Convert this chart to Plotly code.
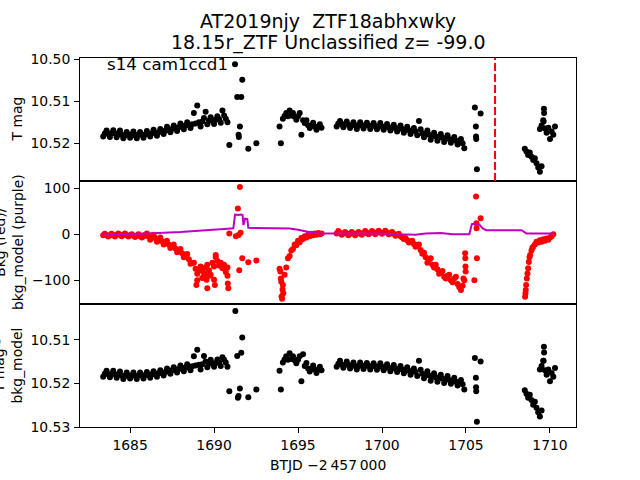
import plotly.graph_objects as go

# ---------------- data ----------------
CADENCE = 0.1  # days between listed samples inside a segment

# Top panel: T mag  (segment start time, values)
TOP_SEGMENTS = [
    (1683.4, [10.5184, 10.5177, 10.5170, 10.5178, 10.5185, 10.5176, 10.5169, 10.5177, 10.5186, 10.5178,
              10.5170, 10.5180, 10.5188, 10.5181, 10.5173, 10.5180, 10.5187, 10.5179, 10.5172, 10.5181,
              10.5188, 10.5180, 10.5173, 10.5180, 10.5187, 10.5179, 10.5171, 10.5178, 10.5184, 10.5176,
              10.5168, 10.5175, 10.5182, 10.5174, 10.5166, 10.5172, 10.5178, 10.5170, 10.5161, 10.5168,
              10.5174, 10.5166, 10.5158, 10.5164, 10.5171, 10.5162, 10.5153, 10.5160, 10.5167, 10.5158,
              10.5150, 10.5157, 10.5164, 10.5155, 10.5128, 10.5153, 10.5110, 10.5150, 10.5160, 10.5148,
              10.5140, 10.5125, 10.5155, 10.5146, 10.5138, 10.5147, 10.5154, 10.5144, 10.5136, 10.5143,
              10.5151, 10.5122, 10.5134, 10.5142, 10.5150]),
    (1694.1, [10.5142, 10.5135, 10.5128, 10.5136, 10.5122, 10.5134, 10.5128, 10.5137, 10.5144, 10.5136,
              10.5128, 10.5180, 10.5145, 10.5152, 10.5145, 10.5157, 10.5164, 10.5158, 10.5151, 10.5160,
              10.5168, 10.5161, 10.5155, 10.5163]),
    (1697.3, [10.5160, 10.5153, 10.5147, 10.5155, 10.5162, 10.5155, 10.5148, 10.5156, 10.5164, 10.5157,
              10.5150, 10.5158, 10.5166, 10.5158, 10.5150, 10.5157, 10.5165, 10.5158, 10.5151, 10.5158,
              10.5166, 10.5159, 10.5152, 10.5159, 10.5167, 10.5160, 10.5152, 10.5160, 10.5168, 10.5161,
              10.5154, 10.5162, 10.5170, 10.5163, 10.5156, 10.5164, 10.5172, 10.5165, 10.5158, 10.5166,
              10.5175, 10.5168, 10.5161, 10.5169, 10.5178, 10.5171, 10.5164, 10.5172, 10.5181, 10.5147,
              10.5167, 10.5176, 10.5186, 10.5178, 10.5170, 10.5180, 10.5192, 10.5183, 10.5175, 10.5184,
              10.5194, 10.5186, 10.5178, 10.5187, 10.5197, 10.5189, 10.5181, 10.5190, 10.5199, 10.5192,
              10.5185, 10.5194, 10.5203, 10.5197, 10.5190, 10.5200, 10.5212]),
    (1708.5, [10.5213, 10.5220, 10.5228, 10.5222, 10.5232, 10.5240, 10.5236, 10.5248, 10.5258, 10.5268, 10.5255]),
    (1709.4, [10.5166, 10.5158, 10.5145, 10.5165, 10.5175, 10.5163, 10.5190, 10.5172, 10.5180, 10.5160]),
]
TOP_EXTRA_T = [1690.91, 1691.25, 1691.38, 1691.46, 1691.48, 1691.54, 1691.62, 1691.68, 1692.04, 1692.52,
               1693.90, 1693.98, 1705.53, 1705.59, 1705.60, 1705.61, 1705.65, 1705.87, 1709.64, 1709.65, 1709.62]
TOP_EXTRA_MAG = [10.5204, 10.5012, 10.5090, 10.5180, 10.5185, 10.5160, 10.5090, 10.5049, 10.5213, 10.5200,
                 10.5160, 10.5200, 10.5115, 10.5160, 10.5184, 10.5190, 10.5262, 10.5129, 10.5118, 10.5128, 10.5148]

# Middle panel: background flux (red)
BKG_SEGMENTS = [
    (1683.4, [-2, 1, -2, -5, -2, 1, -2, -5, -1, 2, -1, -4, -1, 2, -2, -5, -2, 0, -3, -6, -3, 0, -4, -7, -4, -1,
              2, -5, -12, -7, -1, -8, -16, -12, -7, -15, -22, -18, -14, -22, -30, -26, -22, -31, -39, -36,
              -32, -41, -50, -46, -43, -54, -64, -63, -62, -75,
              -86, -78, -70, -80, -90, -72, -66, -78, -88, -62, -70, -50, -58, -68, -62, -74, -66, -82, -72]),
    (1694.1, [-110, -88, -72, -52, -47, -35, -32, -22, -24, -14, -17, -8, -10, -4, -7, -1, -4, 1, -2, 2,
              -1, 3, 0, 2]),
    (1697.3, [2, 7, 3, -1, 2, 5, 2, -2, 1, 5,
              2, -2, 2, 5, 2, -1, 3, 7, 3, 0,
              3, 7, 4, 0, 4, 8, 4, 1, 4, 8,
              4, 0, 2, 5, 1, -3, -1, 1, -4, -7,
              -10, -8, -13, -18, -16, -14, -21, -27, -24, -22,
              -34, -42, -40, -50, -62, -56, -52, -66, -72, -66,
              -76, -86, -82, -80, -92, -96, -90, -88, -100, -104,
              -96, -92, -108, -115, -121, -112, -100]),
    (1709.0, [-27, -22, -16, -18, -13, -16, -11, -14, -9, -12, -7, -4, 0]),
]
BKG_EXTRA_T = [1688.95, 1689.0, 1689.3, 1689.55, 1689.6, 1690.0, 1690.05, 1690.8, 1690.82, 1690.85, 1690.1,
               1689.45, 1689.75,
               1690.91, 1691.3, 1691.42, 1691.46, 1691.5, 1691.54, 1691.58, 1691.68, 1692.04, 1692.52,
               1693.9, 1693.95, 1693.98, 1694.0, 1694.02, 1694.05, 1694.08, 1694.12,
               1704.95, 1704.96, 1704.97, 1704.98, 1704.85,
               1705.5, 1705.6, 1705.62, 1705.63, 1705.65, 1705.87,
               1708.52, 1708.54, 1708.56, 1708.58, 1708.62, 1708.66, 1708.7, 1708.74, 1708.78, 1708.82,
               1708.9, 1708.95]
BKG_EXTRA_V = [-110, -100, -95, -99, -117, -99, -110, -90, -107, -117, -45,
               -85, -90,
               2, -4, 56, -1.5, -78, 103, 3.5, -52, -61, -57,
               -75, -81, -96, -103, -135, -140, -120, -128,
               -41, -52, -70, -81, -96,
               -100, 82, 24, 13, -52, 35,
               -136, -128, -121, -110, -96, -85, -74, -60, -50, -45,
               -35, -30]

# Middle panel: background model (purple line)
MODEL_T = [1683.35, 1684.5, 1686.0, 1688.0, 1690.0, 1690.8, 1691.15, 1691.25, 1691.45, 1691.6, 1691.7,
           1691.75, 1691.85, 1691.98, 1692.04, 1693.0, 1694.0, 1694.5, 1695.0, 1695.5, 1696.0, 1696.4,
           1697.3, 1698.5, 1700.0, 1701.0, 1702.0, 1702.6, 1703.5, 1704.2, 1705.2, 1705.35, 1705.5,
           1705.8, 1706.0, 1706.2, 1708.3, 1708.6, 1709.5, 1710.2]
MODEL_V = [-1, 0, 2, 5, 9, 12, 13, 43, 42, 43, 42,
           20, 34, 33, 14, 13.5, 13, 12.5, 10, 6, 2.5, 1.5,
           2, 2.5, 2, 0, -1, 2, 3, 0, 0, 22, 23,
           21, 13, 9, 9, 2, 1.5, 1.5]

# Bottom panel: T mag - bkg_model
BOT_SEGMENTS = [
    (1683.4, [10.5185, 10.5178, 10.5171, 10.5179, 10.5186, 10.5178, 10.5171, 10.5179, 10.5187, 10.5180,
              10.5173, 10.5182, 10.5190, 10.5183, 10.5175, 10.5182, 10.5189, 10.5182, 10.5175, 10.5183,
              10.5190, 10.5182, 10.5175, 10.5182, 10.5189, 10.5181, 10.5174, 10.5181, 10.5187, 10.5179,
              10.5172, 10.5179, 10.5185, 10.5177, 10.5170, 10.5176, 10.5182, 10.5174, 10.5166, 10.5172,
              10.5178, 10.5170, 10.5163, 10.5169, 10.5175, 10.5167, 10.5159, 10.5165, 10.5172, 10.5164,
              10.5156, 10.5163, 10.5170, 10.5161, 10.5138, 10.5159, 10.5123, 10.5157, 10.5168, 10.5156,
              10.5137, 10.5150, 10.5163, 10.5155, 10.5146, 10.5154, 10.5162, 10.5153, 10.5145, 10.5152,
              10.5160, 10.5140, 10.5146, 10.5152, 10.5162]),
    (1694.1, [10.5152, 10.5145, 10.5138, 10.5146, 10.5131, 10.5144, 10.5138, 10.5147, 10.5154, 10.5146,
              10.5138, 10.5195, 10.5133, 10.5160, 10.5153, 10.5166, 10.5173, 10.5166, 10.5159, 10.5168,
              10.5176, 10.5169, 10.5162, 10.5170]),
    (1697.3, [10.5162, 10.5155, 10.5148, 10.5157, 10.5164, 10.5157, 10.5150, 10.5158, 10.5166, 10.5159,
              10.5152, 10.5160, 10.5168, 10.5160, 10.5152, 10.5159, 10.5167, 10.5160, 10.5153, 10.5160,
              10.5168, 10.5161, 10.5154, 10.5161, 10.5169, 10.5162, 10.5154, 10.5162, 10.5170, 10.5163,
              10.5156, 10.5164, 10.5172, 10.5165, 10.5158, 10.5166, 10.5174, 10.5167, 10.5160, 10.5168,
              10.5177, 10.5170, 10.5163, 10.5171, 10.5180, 10.5173, 10.5166, 10.5174, 10.5183, 10.5148,
              10.5169, 10.5178, 10.5188, 10.5180, 10.5172, 10.5182, 10.5194, 10.5185, 10.5177, 10.5186,
              10.5196, 10.5188, 10.5180, 10.5189, 10.5199, 10.5191, 10.5183, 10.5192, 10.5201, 10.5194,
              10.5187, 10.5196, 10.5205, 10.5199, 10.5192, 10.5202, 10.5214]),
    (1708.5, [10.5216, 10.5224, 10.5233, 10.5226, 10.5238, 10.5249, 10.5242, 10.5256, 10.5266, 10.5276, 10.5262]),
    (1709.4, [10.5168, 10.5160, 10.5148, 10.5170, 10.5180, 10.5168, 10.5195, 10.5176, 10.5185, 10.5165]),
]
BOT_EXTRA_T = [1690.91, 1691.27, 1691.38, 1691.42, 1691.46, 1691.54, 1691.62, 1691.68, 1692.04, 1692.52,
               1693.90, 1693.98, 1705.53, 1705.59, 1705.60, 1705.61, 1705.65, 1705.87, 1709.64, 1709.65, 1709.62]
BOT_EXTRA_MAG = [10.5218, 10.5034, 10.5137, 10.5233, 10.5229, 10.5212, 10.5130, 10.5095, 10.5232, 10.5214,
                 10.5171, 10.5214, 10.5142, 10.5187, 10.5209, 10.5218, 10.5288, 10.5150, 10.5116, 10.5129, 10.5148]

MARK_T = 1706.73  # red dashed vertical line

TITLE_1 = "AT2019njy\u00a0 ZTF18abhxwky"
TITLE_2 = "18.15r_ZTF Unclassified z= -99.0"
SECTOR_LABEL = "s14 cam1ccd1"
X_LABEL = "BTJD \u22122\u2009457\u2009000"
X_TICKS = [1685, 1690, 1695, 1700, 1705, 1710]
TOP_TICKS = [10.50, 10.51, 10.52]
MID_TICKS = [-100, 0, 100]
BOT_TICKS = [10.51, 10.52, 10.53]


def build(segments, extra_t, extra_v):
    ts, vs = [], []
    for t0, vals in segments:
        ts += [round(t0 + CADENCE * i, 3) for i in range(len(vals))]
        vs += list(vals)
    return ts + list(extra_t), vs + list(extra_v)


top_t, top_v = build(TOP_SEGMENTS, TOP_EXTRA_T, TOP_EXTRA_MAG)
bkg_t, bkg_v = build(BKG_SEGMENTS, BKG_EXTRA_T, BKG_EXTRA_V)
bot_t, bot_v = build(BOT_SEGMENTS, BOT_EXTRA_T, BOT_EXTRA_MAG)

FONT = "DejaVu Sans"
MS = 6

fig = go.Figure()
fig.add_trace(go.Scatter(x=top_t, y=top_v, mode="markers", xaxis="x3", yaxis="y3",
                         marker=dict(color="black", size=MS, line=dict(width=0))))
fig.add_trace(go.Scatter(x=bkg_t, y=bkg_v, mode="markers", xaxis="x2", yaxis="y2",
                         marker=dict(color="#ff0000", size=MS, line=dict(width=0))))
fig.add_trace(go.Scatter(x=MODEL_T, y=MODEL_V, mode="lines", xaxis="x2", yaxis="y2",
                         line=dict(color="#bf00bf", width=2)))
fig.add_trace(go.Scatter(x=bot_t, y=bot_v, mode="markers", xaxis="x", yaxis="y",
                         marker=dict(color="black", size=MS, line=dict(width=0))))

fig.add_shape(type="line", xref="x3", yref="y3 domain", x0=MARK_T, x1=MARK_T, y0=0, y1=1,
              line=dict(color="#ff0000", width=2, dash="8px,3px"))

axis_common = dict(showline=True, mirror=True, linecolor="black", linewidth=1.1,
                   showgrid=False, zeroline=False, ticks="outside", ticklen=4.9, tickwidth=1.1,
                   tickcolor="black", tickfont=dict(family=FONT, size=13.9, color="black"))
XR = [1682.02, 1711.55]

fig.update_layout(
    width=640, height=480, showlegend=False,
    margin=dict(l=80, r=64, t=57.6, b=52.8, pad=0, autoexpand=False),
    paper_bgcolor="white", plot_bgcolor="white",
    font=dict(family=FONT, color="black"),
    xaxis=dict(domain=[0, 1], anchor="y", range=XR, tickvals=X_TICKS, **axis_common),
    xaxis2=dict(domain=[0, 1], anchor="y2", range=XR, matches="x", showticklabels=False,
                **{**axis_common, "ticks": ""}),
    xaxis3=dict(domain=[0, 1], anchor="y3", range=XR, matches="x", showticklabels=False,
                **{**axis_common, "ticks": ""}),
    yaxis=dict(domain=[0, 1 / 3], anchor="x", range=[10.5300, 10.5018], tickvals=BOT_TICKS,
               tickformat=".2f", ticklabelstandoff=1, **axis_common),
    yaxis2=dict(domain=[1 / 3, 2 / 3], anchor="x2", range=[-151.5, 115.9], tickvals=MID_TICKS,
                ticklabelstandoff=1, **axis_common),
    yaxis3=dict(domain=[2 / 3, 1], anchor="x3", range=[10.5290, 10.4997], tickvals=TOP_TICKS,
                tickformat=".2f", ticklabelstandoff=1, **axis_common),
)

ann_font = dict(family=FONT, size=13.9, color="black")
annotations = [
    dict(text=TITLE_1, xref="paper", yref="paper", x=0.5, y=1, xanchor="center", yanchor="bottom",
         yshift=23.6, showarrow=False, font=dict(family=FONT, size=19, color="black")),
    dict(text=TITLE_2, xref="paper", yref="paper", x=0.5, y=1, xanchor="center", yanchor="bottom",
         yshift=1.6, showarrow=False, font=dict(family=FONT, size=19, color="black")),
    dict(text=SECTOR_LABEL, xref="paper", yref="paper", x=0.05, y=1, xanchor="left", yanchor="top",
         yshift=6.5, showarrow=False, font=dict(family=FONT, size=16.7, color="black")),
    dict(text="T mag", xref="paper", yref="y3 domain", x=0, y=0.5, xanchor="right", yanchor="middle",
         xshift=-54, textangle=-90, showarrow=False, font=ann_font),
    dict(text="Bkg (red)/<br>bkg_model (purple)", xref="paper", yref="y2 domain", x=0, y=0.5,
         xanchor="right", yanchor="middle", xshift=-52.5, textangle=-90, showarrow=False, font=ann_font),
    dict(text="T mag -<br>bkg_model", xref="paper", yref="y domain", x=0, y=0.5,
         xanchor="right", yanchor="middle", xshift=-54, textangle=-90, showarrow=False, font=ann_font),
    dict(text=X_LABEL, xref="paper", yref="paper", x=0.5, y=0, xanchor="center", yanchor="top",
         yshift=-27.8, showarrow=False, font=ann_font),
]
fig.update_layout(annotations=annotations)

fig.write_html("out.html", config={"displayModeBar": False},
               post_script="document.body.style.margin='0';")
